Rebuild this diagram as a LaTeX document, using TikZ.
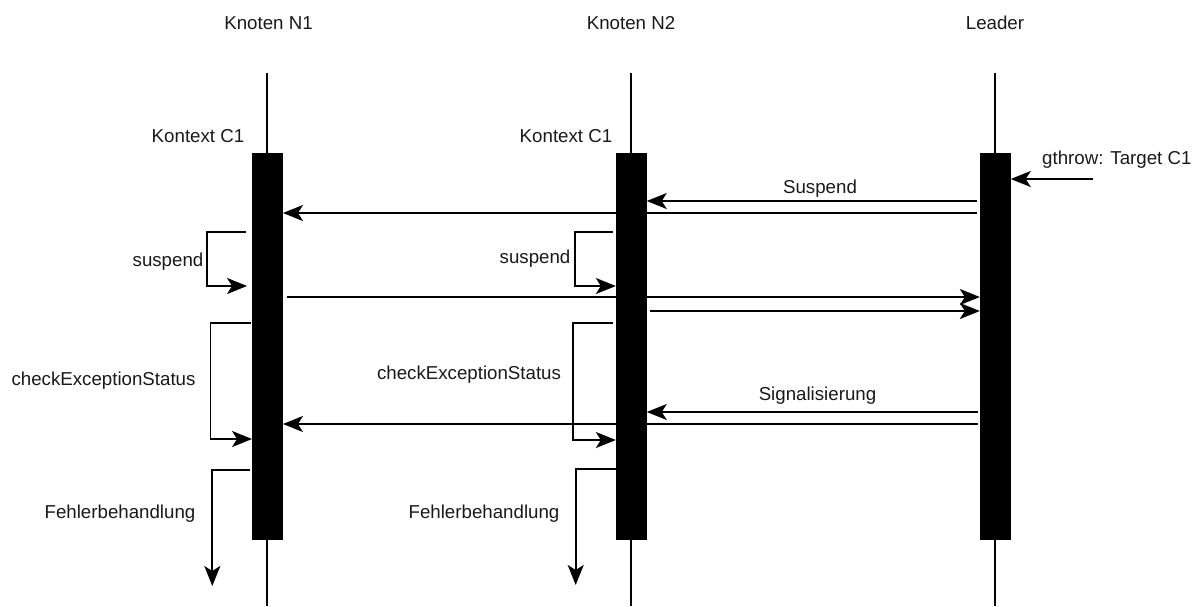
\documentclass[tikz,border=0pt]{standalone}
\usepackage{fontspec}
\setmainfont{Liberation Sans}
\usetikzlibrary{arrows.meta}

\tikzset{
  every node/.style={font=\fontsize{18.7}{22}\selectfont, text=black!90},
  bar/.style={draw=none, inner sep=0pt, minimum width=30.5pt, minimum height=386pt},
  life/.style={line width=1.7pt, draw=black},
  msg/.style={line width=1.8pt, draw=black, -{Stealth[length=20pt, width=16pt, inset=5pt]}},
  lbl/.style={anchor=base, inner sep=0pt},
}

\begin{document}
\begin{tikzpicture}[x=1pt, y=-1pt]
\useasboundingbox (0,0) rectangle (1195,606);

% lifelines
\coordinate (t1) at (267,73);  \coordinate (e1) at (267,606);
\coordinate (t2) at (631,73);  \coordinate (e2) at (631,606);
\coordinate (t3) at (995,73);  \coordinate (e3) at (995,606);
\draw[life] (t1) -- (e1);
\draw[life] (t2) -- (e2);
\draw[life] (t3) -- (e3);

% participant titles
\node[lbl] (n1) at (268.5,29.3) {Knoten N1};
\node[lbl] (n2) at (631,29.3) {Knoten N2};
\node[lbl] (ld) at (995,29.3) {Leader};
\node[lbl] (k1) at (198,142.5) {Kontext C1};
\node[lbl] (k2) at (566,142.5) {Kontext C1};

% activation bars (placed here, filled last so they cover crossing lines)
\path (267.5,346.3) node[bar] (b1) {};
\path (631.3,346.3) node[bar] (b2) {};
\path (995.3,346.3) node[bar] (b3) {};

% incoming exception
\coordinate (g) at (1093,179);
\draw[msg] (g) -- (b3.east |- g);
\node[lbl, anchor=base west] (gl) at (1042,164) {gthrow: Target C1};

% suspend broadcast
\draw[msg, shorten <=3pt] (b3.west |- 0,201) -- (b2.east |- 0,201);
\node[lbl] (sl) at (820,193.3) {Suspend};
\draw[msg, shorten <=3pt] (b3.west |- 0,213) -- (b1.east |- 0,213);

% local suspend
\draw[msg, shorten >=5pt] (b1.west |- 0,232) ++(-6,0) -- ++(-39,0) |- (b1.west |- 0,286);
\node[lbl] (s1) at (168,266) {suspend};
\draw[msg] (b2.west |- 0,232) ++(-3,0) -- ++(-38,0) |- (b2.west |- 0,286);
\node[lbl] (s2) at (535,263) {suspend};

% acknowledgements to leader
\draw[msg, shorten <=4pt] (b1.east |- 0,297) -- (b3.west |- 0,297);
\draw[msg, shorten <=3pt] (b2.east |- 0,311) -- (b3.west |- 0,311);

% exception status check
\draw[msg] (b1.west |- 0,323) ++(-1.5,0) -- ++(-40,0) |- (b1.west |- 0,439);
\node[lbl] (c1) at (103.5,385) {checkExceptionStatus};
\draw[msg] (b2.west |- 0,323) ++(-3,0) -- ++(-40,0) |- (b2.west |- 0,440);
\node[lbl] (c2) at (469,379) {checkExceptionStatus};

% signalling
\draw[msg, shorten <=2pt] (b3.west |- 0,412) -- (b2.east |- 0,412);
\node[lbl] (sg) at (817.5,400) {Signalisierung};
\draw[msg, shorten <=2pt] (b3.west |- 0,424) -- (b1.east |- 0,424);

% error handling
\coordinate (f1) at (212.3,586);
\coordinate (f2) at (575.7,585);
\draw[msg] (b1.west |- 0,470) ++(-2,0) -| (f1);
\node[lbl] (h1) at (120,518) {Fehlerbehandlung};
\draw[msg] (b2.west |- 0,469) -| (f2);
\node[lbl] (h2) at (484,518) {Fehlerbehandlung};

% activation bars on top
\fill (b1.south west) rectangle (b1.north east);
\fill (b2.south west) rectangle (b2.north east);
\fill (b3.south west) rectangle (b3.north east);
\end{tikzpicture}
\end{document}
